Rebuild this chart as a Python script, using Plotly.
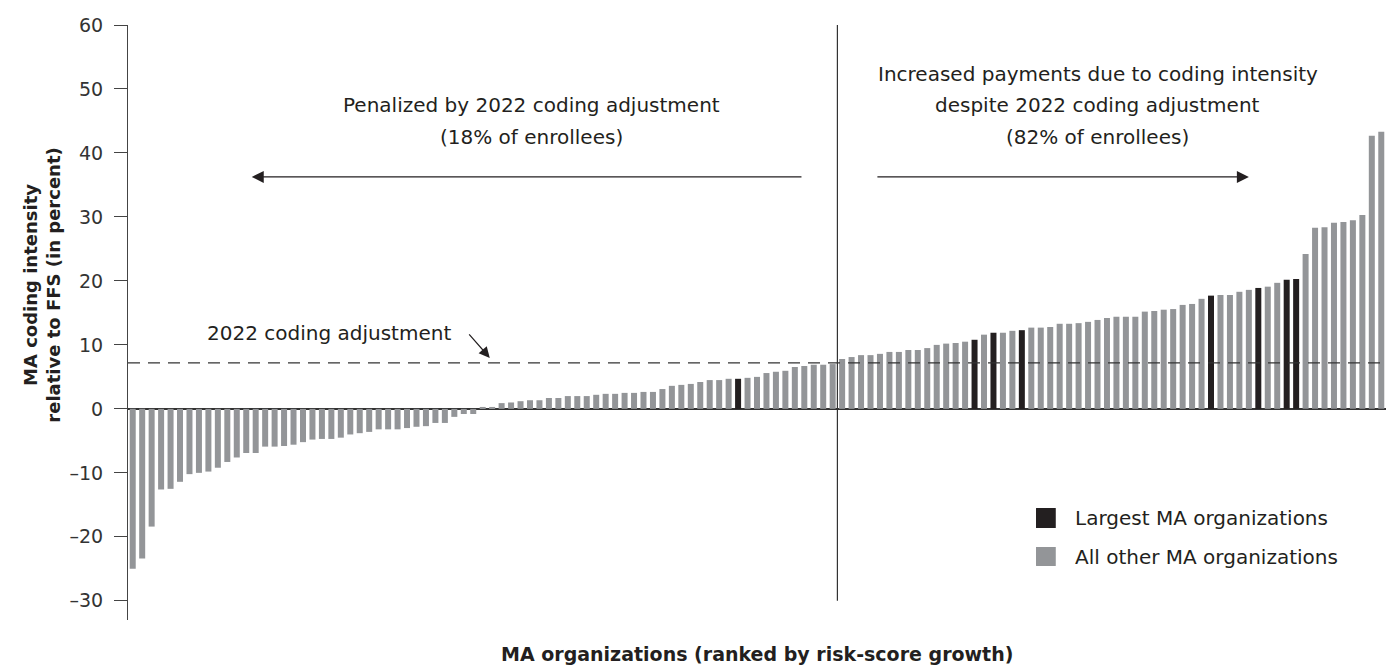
import plotly.graph_objects as go

# ---- data ----
org_rank = list(range(1, 134))
coding_intensity = [
    -25.0, -23.4, -18.4, -12.6, -12.5, -11.4, -10.2, -10.0, -9.8, -9.2,
    -8.3, -7.6, -6.9, -6.9, -5.9, -5.9, -5.8, -5.6, -5.2, -4.8,
    -4.7, -4.7, -4.5, -4.0, -3.8, -3.6, -3.2, -3.2, -3.2, -3.0,
    -2.8, -2.7, -2.2, -2.2, -1.25, -0.8, -0.8, 0.3, 0.3, 0.9,
    1.0, 1.2, 1.35, 1.35, 1.7, 1.7, 2.0, 2.0, 2.0, 2.2,
    2.35, 2.35, 2.5, 2.5, 2.65, 2.65, 3.1, 3.6, 3.75, 3.9,
    4.2, 4.5, 4.5, 4.7, 4.7, 4.85, 5.0, 5.6, 5.8, 5.95,
    6.55, 6.7, 6.9, 6.9, 7.0, 7.8, 8.1, 8.4, 8.4, 8.6,
    8.9, 8.9, 9.2, 9.2, 9.5, 10.0, 10.2, 10.3, 10.5, 10.8,
    11.6, 11.9, 11.9, 12.2, 12.3, 12.7, 12.7, 12.8, 13.3, 13.3,
    13.4, 13.6, 13.9, 14.2, 14.4, 14.4, 14.4, 15.2, 15.3, 15.5,
    15.6, 16.25, 16.4, 17.2, 17.7, 17.8, 17.8, 18.3, 18.6, 18.9,
    19.1, 19.7, 20.2, 20.3, 24.2, 28.3, 28.4, 29.1, 29.2, 29.5,
    30.3, 42.7, 43.3,
]
largest_orgs = [65, 90, 92, 95, 115, 120, 123, 124]  # ranks of the largest MA organizations
coding_adjustment = 7.2
split_position = 75.5
tick_values = [-30, -20, -10, 0, 10, 20, 30, 40, 50, 60]
tick_labels = ["\u201330", "\u201320", "\u201310", "0", "10", "20", "30", "40", "50", "60"]

GRAY = "#939598"
BLACK = "#231f20"
TEXT = "#231f20"
FONT = "DejaVu Sans"
TSIZE = 20

colors = [BLACK if r in largest_orgs else GRAY for r in org_rank]

fig = go.Figure()
fig.add_trace(go.Bar(
    x=org_rank, y=coding_intensity, marker=dict(color=colors, line=dict(width=0)),
    showlegend=False, hoverinfo="x+y",
))

fig.update_layout(
    width=1387, height=667,
    margin=dict(l=128.3, r=1.2, t=25, b=47),
    plot_bgcolor="white", paper_bgcolor="white",
    bargap=0.365,
    font=dict(family=FONT, size=TSIZE, color=TEXT),
    showlegend=False,
)
fig.update_xaxes(range=[0.5, 133.5], showticklabels=False, showgrid=False,
                 zeroline=False, showline=False, ticks="")
fig.update_yaxes(range=[-33, 60], tickvals=tick_values, ticktext=tick_labels,
                 ticks="outside", ticklen=13, tickcolor="#444", tickwidth=1.2,
                 showline=True, linecolor="#444", linewidth=1.2,
                 showgrid=False, zeroline=True, zerolinecolor="#333", zerolinewidth=1.5,
                 ticklabelstandoff=7, tickfont=dict(size=19, color="#333"))

# dashed coding adjustment line and vertical split line
fig.add_shape(type="line", xref="paper", x0=0, x1=1, yref="y", y0=coding_adjustment, y1=coding_adjustment,
              line=dict(color="#333", width=1.2, dash="12px,8px"))
fig.add_shape(type="line", xref="x", x0=split_position, x1=split_position, yref="y", y0=-30, y1=60,
              line=dict(color="#333", width=1.2))

def txt(x, y, s, anchor="center", size=TSIZE):
    fig.add_annotation(x=x, y=y, xref="x", yref="y", text=s,
                       showarrow=False, xanchor=anchor, yanchor="middle",
                       font=dict(size=size, color=TEXT, family=FONT))

txt(43.2, 47.5, "Penalized by 2022 coding adjustment")
txt(43.2, 42.5, "(18% of enrollees)")
txt(103.0, 52.3, "Increased payments due to coding intensity")
txt(103.0, 47.5, "despite 2022 coding adjustment")
txt(103.0, 42.5, "(82% of enrollees)")
txt(34.84, 11.9, "2022 coding adjustment", anchor="right")

def arrow(x_head, y_head, x_tail, y_tail, size=2.0):
    fig.add_annotation(x=x_head, y=y_head, ax=x_tail, ay=y_tail, xref="x", yref="y",
                       axref="x", ayref="y", text="", showarrow=True, arrowhead=2,
                       arrowsize=size, arrowwidth=1.2, arrowcolor=TEXT)

arrow(13.58, 36.25, 71.86, 36.25)
arrow(119.0, 36.25, 79.57, 36.25)
arrow(38.75, 7.97, 36.43, 11.875, size=1.8)

# legend (drawn manually to match square swatches)
fig.add_shape(type="rect", xref="paper", yref="paper", x0=0.7218, x1=0.7375, y0=0.1546, y1=0.1882,
              fillcolor=BLACK, line=dict(width=0))
fig.add_shape(type="rect", xref="paper", yref="paper", x0=0.7218, x1=0.7375, y0=0.0908, y1=0.1227,
              fillcolor=GRAY, line=dict(width=0))
fig.add_annotation(xref="paper", yref="paper", x=0.7513, y=0.1714, text="Largest MA organizations",
                   showarrow=False, xanchor="left", yanchor="middle",
                   font=dict(size=TSIZE, color=TEXT, family=FONT))
fig.add_annotation(xref="paper", yref="paper", x=0.7513, y=0.1059, text="All other MA organizations",
                   showarrow=False, xanchor="left", yanchor="middle",
                   font=dict(size=TSIZE, color=TEXT, family=FONT))

# axis titles
fig.add_annotation(xref="paper", yref="paper", x=0.5, y=-(654 - 620) / 595,
                   text="<b>MA organizations (ranked by risk-score growth)</b>",
                   showarrow=False, xanchor="center", yanchor="middle",
                   font=dict(size=19, color=TEXT, family=FONT))
fig.add_annotation(xref="paper", yref="paper", x=(42 - 128.3) / 1257.5, y=(620 - 285) / 595,
                   text="<b>MA coding intensity<br>relative to FFS (in percent)</b>",
                   showarrow=False, textangle=-90, xanchor="center", yanchor="middle",
                   font=dict(size=18, color=TEXT, family=FONT))

fig.write_html("out.html", config={"displayModeBar": False},
               post_script="document.body.style.margin='0';document.body.style.overflow='hidden';")
